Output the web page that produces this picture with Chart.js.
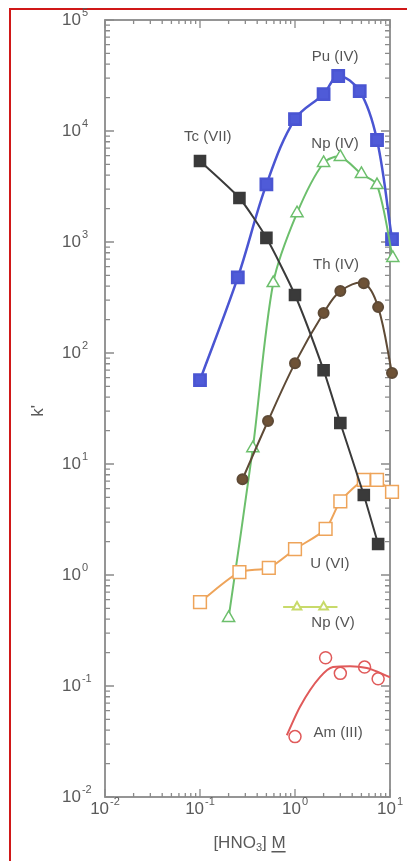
<!DOCTYPE html>
<html>
<head>
<meta charset="utf-8">
<script src="https://cdn.jsdelivr.net/npm/chart.js@4/dist/chart.umd.min.js"></script>
<style>
  html, body { margin: 0; padding: 0; background: #fff; }
  #wrap { width: 407px; height: 861px; position: relative; }
</style>
</head>
<body>
<div id="wrap"><canvas id="c"></canvas></div>
<script>
// values ([HNO3] in M, k')
const puX = [0.1, 0.25, 0.5, 1, 2, 2.85, 4.8, 7.3, 10.5]
const puK = [57, 480, 3300, 12800, 21500, 31300, 22900, 8300, 1060]
const tcX = [0.1, 0.26, 0.5, 1, 2, 3, 5.3, 7.5]
const tcK = [5370, 2490, 1090, 333, 70, 23.4, 5.25, 1.9]
const np4X = [0.2, 0.36, 0.59, 1.05, 2, 3, 5, 7.3, 10.7]
const np4K = [0.41, 13.9, 427, 1820, 5150, 5840, 4100, 3260, 718]
const thX = [0.28, 0.52, 1, 2, 3, 5.3, 7.5, 10.5]
const thK = [7.3, 24.4, 81, 229, 361, 425, 259, 66]
const uX = [0.1, 0.26, 0.53, 1, 2.1, 3, 5.3, 7.3, 10.5]
const uK = [0.57, 1.06, 1.16, 1.71, 2.6, 4.6, 7.2, 7.2, 5.6]
const np5X = [0.75, 1.05, 2, 2.8]
const np5K = [0.515, 0.515, 0.515, 0.515]
const amX = [1, 2.1, 3, 5.4, 7.5]
const amK = [0.035, 0.18, 0.13, 0.148, 0.116]
const amFitX = [0.82, 1.13, 1.83, 2.51, 3.8, 5.7, 10]
const amFitK = [0.036, 0.065, 0.12, 0.148, 0.151, 0.145, 0.12]

const xDecades = [-2, -1, 0, 1]
const yDecades = [-2, -1, 0, 1, 2, 3, 4, 5]

const seriesLabels = [
  {text: 'Pu (IV)', x: 2.64, y: 46400},
  {text: 'Tc (VII)', x: 0.121, y: 8830},
  {text: 'Np (IV)', x: 2.64, y: 7640},
  {text: 'Th (IV)', x: 2.7, y: 621},
  {text: 'U (VI)', x: 2.33, y: 1.26},
  {text: 'Np (V)', x: 2.51, y: 0.37},
  {text: 'Am (III)', x: 2.84, y: 0.0377}
]

const FONT = '"Liberation Sans", Arial, sans-serif'

function pts(xs, ys) {
  return xs.map((x, i) => ({x: x, y: ys[i]}))
}

function drawPower(ctx, exp, x, y, align) {
  ctx.font = '17px ' + FONT
  const base = '10'
  const bw = ctx.measureText(base).width
  ctx.font = '11px ' + FONT
  const sup = String(exp).replace('-', '-')
  const sw = ctx.measureText(sup).width
  let left = x
  if (align === 'center') left = x - (bw + sw + 1) / 2
  ctx.textAlign = 'left'
  ctx.textBaseline = 'middle'
  ctx.font = '17px ' + FONT
  ctx.fillText(base, left, y)
  ctx.font = '11px ' + FONT
  ctx.fillText(sup, left + bw + 1, y - 7)
}

const framePlugin = {
  id: 'frame',
  beforeDatasetsDraw(chart) {
    const {ctx, chartArea: a, scales} = chart
    ctx.save()
    // red border of the clipping
    ctx.strokeStyle = '#d01818'
    ctx.lineWidth = 2
    ctx.beginPath()
    ctx.moveTo(10, 861)
    ctx.lineTo(10, 9)
    ctx.lineTo(407, 9)
    ctx.stroke()

    ctx.strokeStyle = '#8a8a8a'
    ctx.lineWidth = 1.8
    ctx.strokeRect(a.left, a.top, a.right - a.left, a.bottom - a.top)

    ctx.lineWidth = 1.3
    ctx.beginPath()
    for (const d of xDecades) {
      for (let m = 1; m <= 9; m++) {
        const v = m * Math.pow(10, d)
        if (v > 10.0001) continue
        const px = scales.x.getPixelForValue(v)
        const len = m === 1 ? 8 : 4
        ctx.moveTo(px, a.bottom); ctx.lineTo(px, a.bottom - len)
        ctx.moveTo(px, a.top); ctx.lineTo(px, a.top + len)
      }
    }
    for (const d of yDecades) {
      for (let m = 1; m <= 9; m++) {
        const v = m * Math.pow(10, d)
        if (v > 100001) continue
        const py = scales.y.getPixelForValue(v)
        const len = m === 1 ? 9 : 5
        ctx.moveTo(a.left, py); ctx.lineTo(a.left + len, py)
        ctx.moveTo(a.right, py); ctx.lineTo(a.right - len, py)
      }
    }
    ctx.stroke()

    ctx.fillStyle = '#5a5a5a'
    for (const d of yDecades) {
      drawPower(ctx, d, 62, scales.y.getPixelForValue(Math.pow(10, d)), 'left')
    }
    for (const d of xDecades) {
      drawPower(ctx, d, scales.x.getPixelForValue(Math.pow(10, d)), a.bottom + 12, 'center')
    }

    // axis titles
    ctx.font = '17px ' + FONT
    ctx.save()
    ctx.translate(38, 411)
    ctx.rotate(-Math.PI / 2)
    ctx.textAlign = 'center'
    ctx.textBaseline = 'middle'
    ctx.fillText("k'", 0, 0)
    ctx.restore()

    const cx = (a.left + a.right) / 2 + 2
    const ty = 843
    ctx.textBaseline = 'middle'
    ctx.textAlign = 'left'
    const p1 = '[HNO', p2 = '3', p3 = '] ', p4 = 'M'
    ctx.font = '17px ' + FONT
    const w1 = ctx.measureText(p1).width, w3 = ctx.measureText(p3).width, w4 = ctx.measureText(p4).width
    ctx.font = '11px ' + FONT
    const w2 = ctx.measureText(p2).width
    let x0 = cx - (w1 + w2 + w3 + w4) / 2
    ctx.font = '17px ' + FONT
    ctx.fillText(p1, x0, ty)
    ctx.font = '11px ' + FONT
    ctx.fillText(p2, x0 + w1, ty + 5)
    ctx.font = '17px ' + FONT
    ctx.fillText(p3, x0 + w1 + w2, ty)
    const mx = x0 + w1 + w2 + w3
    ctx.fillText(p4, mx, ty)
    ctx.fillRect(mx, ty + 8, w4, 1.5)
    ctx.restore()
  },
  afterDraw(chart) {
    const {ctx, scales} = chart
    ctx.save()
    ctx.fillStyle = '#555'
    ctx.font = '15px ' + FONT
    ctx.textAlign = 'center'
    ctx.textBaseline = 'middle'
    for (const l of seriesLabels) {
      ctx.fillText(l.text, scales.x.getPixelForValue(l.x), scales.y.getPixelForValue(l.y))
    }
    ctx.restore()
  }
}

const lastOf = arr => arr.length - 1

new Chart(document.getElementById('c').getContext('2d'), {
  type: 'line',
  data: {
    datasets: [
      {
        label: 'Tc (VII)', data: pts(tcX, tcK),
        borderColor: '#3a3a3a', backgroundColor: '#3a3a3a', borderWidth: 2,
        pointStyle: 'rect', pointRadius: 7.5, tension: 0.2
      },
      {
        label: 'Th (IV)', data: pts(thX, thK),
        borderColor: '#5e4a36', backgroundColor: '#6e5236', borderWidth: 2,
        pointStyle: 'circle', pointRadius: 5, tension: 0.35
      },
      {
        label: 'U (VI)', data: pts(uX, uK),
        borderColor: '#eea45a', backgroundColor: '#fff', borderWidth: 2,
        pointBorderWidth: 1.5, pointStyle: 'rect', pointRadius: 9, tension: 0.25
      },
      {
        label: 'Np (V)', data: pts(np5X, np5K),
        borderColor: '#c8da6a', backgroundColor: '#fff', borderWidth: 2,
        pointStyle: 'triangle',
        pointRadius: c => (c.dataIndex === 0 || c.dataIndex === lastOf(np5X)) ? 0 : 5
      },
      {
        label: 'Am (III) fit', data: pts(amFitX, amFitK),
        borderColor: '#e05a5a', borderWidth: 2, pointRadius: 0,
        cubicInterpolationMode: 'monotone'
      },
      {
        label: 'Am (III)', data: pts(amX, amK), showLine: false,
        borderColor: '#e05a5a', backgroundColor: '#fff',
        pointBorderWidth: 1.5, pointStyle: 'circle', pointRadius: 6
      },
      {
        label: 'Np (IV)', data: pts(np4X, np4K),
        borderColor: '#6cbf6c', backgroundColor: '#fff', borderWidth: 2,
        pointBorderWidth: 1.5, pointStyle: 'triangle', pointRadius: 7, tension: 0.3
      },
      {
        label: 'Pu (IV)', data: pts(puX, puK),
        borderColor: '#4a55d2', backgroundColor: '#4f5bd8', borderWidth: 2.5,
        pointStyle: 'rect', pointRadius: 8, tension: 0.35
      }
    ]
  },
  options: {
    responsive: true,
    maintainAspectRatio: false,
    animation: false,
    clip: false,
    layout: {padding: {left: 105, top: 20, right: 17, bottom: 64}},
    scales: {
      x: {type: 'logarithmic', min: 0.01, max: 10, display: false},
      y: {type: 'logarithmic', min: 0.01, max: 100000, display: false}
    },
    plugins: {legend: {display: false}, tooltip: {enabled: false}}
  },
  plugins: [framePlugin]
})
</script>
</body>
</html>
